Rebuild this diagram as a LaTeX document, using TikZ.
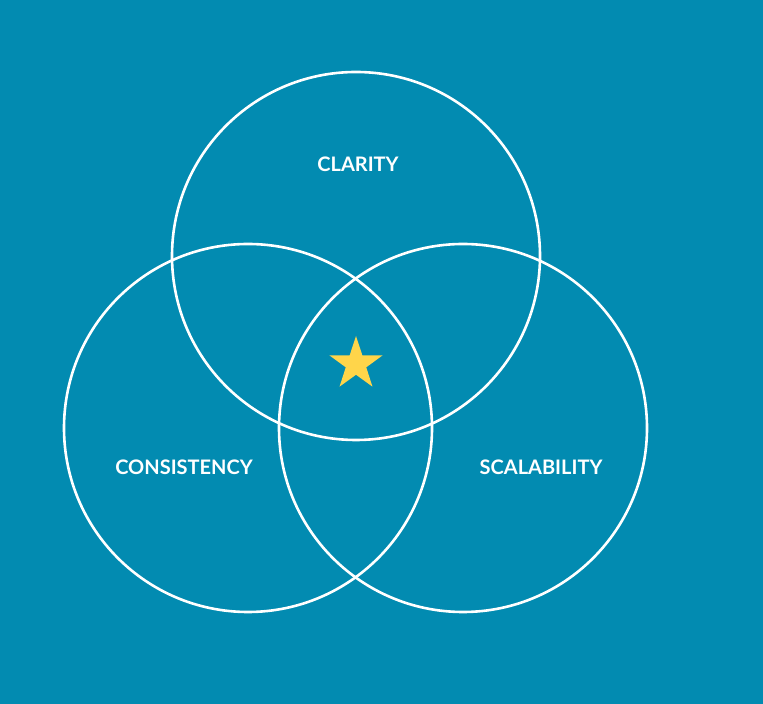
\documentclass[tikz,border=0pt]{standalone}
\usepackage{fontspec}
\setmainfont{Lato}
\usetikzlibrary{shapes.geometric}
\definecolor{bg}{HTML}{028BB1}
\definecolor{staryellow}{HTML}{FFD54A}
\tikzset{ring/.style={draw=white,line width=2.6pt},
lbl/.style={text=white,font=\fontsize{20}{24}\selectfont\bfseries}}
\begin{document}
\begin{tikzpicture}[x=1pt,y=1pt]
\fill[bg] (0,0) rectangle (763,704);
\useasboundingbox (0,0) rectangle (763,704);
\draw[ring] (356,448) circle (184);
\draw[ring] (248,276) circle (184);
\draw[ring] (463,276) circle (184);
\node[lbl] (clarity) at (358,540) {CLARITY};
\node[lbl] (consistency) at (184,237) {CONSISTENCY};
\node[lbl] (scalability) at (541,237) {SCALABILITY};
\node[star,star points=5,star point ratio=2.6,fill=staryellow,minimum size=56pt,inner sep=0pt] (star) at (356,340) {};
\end{tikzpicture}
\end{document}
